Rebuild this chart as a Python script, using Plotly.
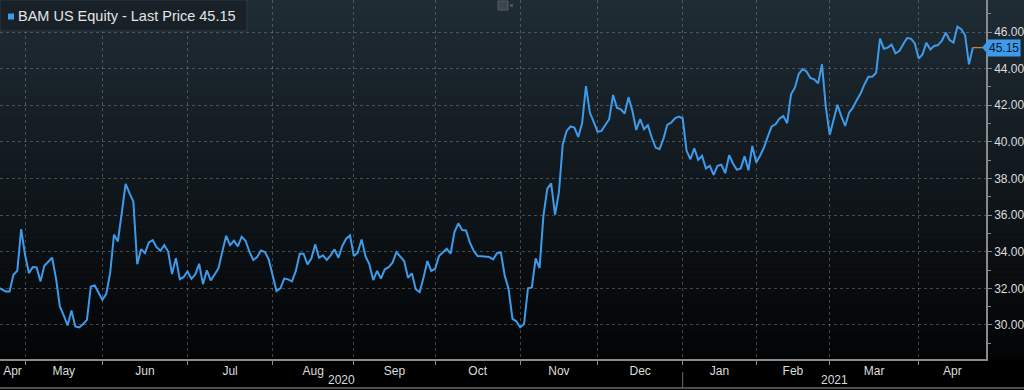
import plotly.graph_objects as go
import pandas as pd

# ---------------- data ----------------
TICKER = "BAM US Equity"
START_DATE = "2020-04-22"
END_DATE = "2021-04-22"
HOLIDAYS = ["2020-05-25", "2020-07-03", "2020-09-07", "2020-11-26", "2020-12-25",
            "2021-01-01", "2021-01-18", "2021-02-15", "2021-04-02"]

PRICES_APR20 = [32.05, 31.92, 31.83, 31.83, 32.74, 32.96, 35.23]
PRICES_MAY20 = [33.83, 32.83, 33.16, 33.14, 32.38, 33.23, 33.45, 33.67, 32.56, 31.01,
                30.52, 29.97, 30.79, 29.92, 29.86, 30.04, 30.28, 32.10, 32.16, 31.77]
PRICES_JUN20 = [31.37, 31.70, 32.83, 34.93, 34.56, 36.11, 37.71, 37.20, 36.75, 33.32,
                34.14, 33.92, 34.51, 34.63, 34.25, 34.05, 34.36, 34.01, 32.78, 33.65,
                32.50, 32.61]
PRICES_JUL20 = [32.92, 32.52, 32.76, 33.34, 32.23, 32.98, 32.43, 32.76, 33.09, 34.01,
                34.87, 34.36, 34.60, 34.29, 34.82, 34.60, 34.00, 33.55, 33.71, 34.07,
                33.98, 33.58]
PRICES_AUG20 = [32.76, 31.85, 32.00, 32.53, 32.49, 32.38, 32.95, 33.89, 33.89, 33.31,
                33.62, 34.40, 33.67, 33.80, 33.55, 33.80, 34.13, 33.67, 34.31, 34.71,
                34.89]
PRICES_SEP20 = [33.76, 33.95, 34.67, 33.76, 33.31, 32.45, 32.95, 32.53, 33.04, 33.16,
                33.40, 33.98, 33.71, 33.49, 32.58, 32.82, 31.95, 31.80, 32.58, 33.49,
                32.95]
PRICES_OCT20 = [33.07, 33.76, 33.95, 34.16, 33.89, 35.07, 35.55, 35.18, 35.16, 34.49,
                34.04, 33.76, 33.75, 33.73, 33.71, 33.58, 33.92, 33.96, 32.69, 31.96,
                30.33, 30.20]
PRICES_NOV20 = [29.87, 30.05, 32.00, 32.05, 33.64, 33.11, 35.96, 37.45, 37.73, 36.02,
                37.24, 39.87, 40.60, 40.84, 40.78, 40.27, 41.02, 43.05, 41.60, 41.09]
PRICES_DEC20 = [40.55, 40.60, 40.96, 41.24, 42.56, 41.87, 41.78, 41.55, 42.44, 41.69,
                40.65, 41.24, 40.69, 40.91, 40.24, 39.69, 39.60, 40.15, 40.93, 41.05,
                41.29, 41.38]
PRICES_JAN21 = [41.29, 39.51, 39.05, 39.65, 39.02, 39.24, 38.55, 38.69, 38.20, 38.69,
                38.75, 38.29, 39.27, 38.82, 38.47, 38.55, 39.22, 38.45, 39.78]
PRICES_FEB21 = [38.87, 39.24, 39.69, 40.29, 40.84, 40.96, 41.27, 41.42, 41.02, 42.60,
                42.96, 43.71, 43.98, 43.85, 43.49, 43.42, 43.20, 44.24, 41.90]
PRICES_MAR21 = [40.38, 41.24, 42.03, 41.40, 40.87, 41.60, 41.87, 42.29, 42.65, 43.15,
                43.56, 43.56, 43.78, 45.64, 45.09, 45.15, 45.31, 44.84, 44.96, 45.33,
                45.67, 45.64, 45.38]
PRICES_APR21 = [44.55, 44.78, 45.42, 45.05, 45.24, 45.29, 45.53, 45.96, 45.56, 45.42,
                46.29, 46.15, 45.82, 44.24, 45.15]

PRICES = (PRICES_APR20 + PRICES_MAY20 + PRICES_JUN20 + PRICES_JUL20 + PRICES_AUG20 +
          PRICES_SEP20 + PRICES_OCT20 + PRICES_NOV20 + PRICES_DEC20 + PRICES_JAN21 +
          PRICES_FEB21 + PRICES_MAR21 + PRICES_APR21)

Y_TICKS = [30, 32, 34, 36, 38, 40, 42, 44, 46]
MONTH_NAMES = ["Jan", "Feb", "Mar", "Apr", "May", "Jun", "Jul", "Aug", "Sep", "Oct", "Nov", "Dec"]

# ---------------- trading-day axis ----------------
dates = [d for d in pd.bdate_range(START_DATE, END_DATE) if d.strftime("%Y-%m-%d") not in HOLIDAYS]
n = min(len(dates), len(PRICES))
dates = dates[:n]
prices = PRICES[:n]
idx = list(range(n))

X_RANGE = [0.53, 255.4]
Y_RANGE = [28.14, 47.75]

month_starts = [k for k in range(n) if k == 0 or dates[k].month != dates[k - 1].month]
grid_vals = [k for k in month_starts if k > X_RANGE[0]]
bounds = month_starts + [X_RANGE[1]]
label_vals, label_text = [], []
for j, k in enumerate(month_starts):
    a = max(k, X_RANGE[0])
    b = min(bounds[j + 1], X_RANGE[1])
    label_vals.append((a + b) / 2)
    label_text.append(MONTH_NAMES[dates[k].month - 1])

year_starts = [k for k in range(n) if k == 0 or dates[k].year != dates[k - 1].year]
ybounds = year_starts + [X_RANGE[1]]
year_pos = [(max(k, X_RANGE[0]) + min(ybounds[j + 1], X_RANGE[1])) / 2 for j, k in enumerate(year_starts)]
year_txt = [str(dates[k].year) for k in year_starts]

# ---------------- geometry helpers ----------------
W, H = 1024, 390
ML, MR, MT, MB = 0, 38, 0, 31
PW, PH = W - ML - MR, H - MT - MB


def px(x):
    return (x - ML) / PW


def py(y):
    return 1 - (y - MT) / PH


LINE_BLUE = "#3d9bec"
TXT = "#dcdcdc"
FONT = "Liberation Sans"

fig = go.Figure()

fig.add_trace(go.Scatter(
    x=idx, y=prices, mode="lines",
    line=dict(color=LINE_BLUE, width=2),
    customdata=[d.strftime("%Y-%m-%d") for d in dates],
    hovertemplate="%{customdata}: %{y:.2f}<extra></extra>",
    showlegend=False,
))
fig.add_trace(go.Scatter(
    x=[idx[-1], X_RANGE[1]], y=[prices[-1], prices[-1]], mode="lines",
    line=dict(color="#c8823a", width=1.3), hoverinfo="skip", showlegend=False,
))

shapes = []
# background gradient (plot + right label area)
top = (31, 44, 53)
bot = (3, 4, 5)
NB = 72
for b in range(NB):
    t = (b + 0.5) / NB
    c = tuple(int(round(top[i] + (bot[i] - top[i]) * t)) for i in range(3))
    y0 = PH * b / NB
    y1 = PH * (b + 1) / NB
    shapes.append(dict(type="rect", xref="paper", yref="paper",
                       x0=px(0), x1=px(W), y0=py(y1 + 0.5), y1=py(y0),
                       fillcolor="rgb(%d,%d,%d)" % c, line=dict(width=0), layer="below"))

# legend box
shapes.append(dict(type="rect", xref="paper", yref="paper", x0=px(0), x1=px(247), y0=py(31), y1=py(0),
                   fillcolor="#182127", line=dict(color="#2e383f", width=1), layer="above"))
shapes.append(dict(type="rect", xref="paper", yref="paper", x0=px(8), x1=px(14), y0=py(19.5), y1=py(13.5),
                   fillcolor=LINE_BLUE, line=dict(width=0), layer="above"))
# small icon at top centre
shapes.append(dict(type="rect", xref="paper", yref="paper", x0=px(498), x1=px(508), y0=py(10), y1=py(1),
                   fillcolor="#3c454b", line=dict(color="#555e64", width=1), layer="above"))
shapes.append(dict(type="rect", xref="paper", yref="paper", x0=px(510), x1=px(513), y0=py(7), y1=py(4),
                   fillcolor="#4a5359", line=dict(width=0), layer="above"))
# last price tag arrow
upp = (Y_RANGE[1] - Y_RANGE[0]) / PH
lp = prices[-1]
shapes.append(dict(type="path", xref="paper", yref="y",
                   path="M %f,%f L %f,%f L %f,%f Z" % (px(982), lp, px(988), lp + 7 * upp, px(988), lp - 7 * upp),
                   fillcolor=LINE_BLUE, line=dict(width=0), layer="above"))
# bottom date band lines
shapes.append(dict(type="line", xref="paper", yref="paper", x0=px(0), x1=px(W), y0=py(388), y1=py(388),
                   line=dict(color="#6a6a6a", width=1.5)))
for k in year_starts:
    if k > X_RANGE[0]:
        shapes.append(dict(type="line", xref="x", yref="paper", x0=k, x1=k, y0=py(388), y1=py(372),
                           line=dict(color="#6a6a6a", width=1)))

annotations = [
    dict(xref="paper", yref="paper", x=px(16), y=py(16), xanchor="left", yanchor="middle",
         text="%s - Last Price %.2f" % (TICKER, lp), showarrow=False,
         font=dict(family=FONT, size=14.5, color="#e4e4e4")),
    dict(xref="paper", yref="y", x=px(987), y=lp, xanchor="left", yanchor="middle",
         text="%.2f" % lp, showarrow=False, bgcolor=LINE_BLUE, borderpad=1,
         font=dict(family=FONT, size=12, color="#0b1621")),
]
for xv, tx in zip(year_pos, year_txt):
    annotations.append(dict(xref="x", yref="paper", x=xv, y=py(380), xanchor="center", yanchor="middle",
                            text=tx, showarrow=False, font=dict(family=FONT, size=12, color=TXT)))

GRID = "rgba(150,150,150,0.42)"

fig.update_layout(
    width=W, height=H, autosize=False,
    margin=dict(l=ML, r=MR, t=MT, b=MB, pad=0),
    paper_bgcolor="#000000", plot_bgcolor="rgba(0,0,0,0)",
    font=dict(family=FONT, size=12, color=TXT),
    showlegend=False,
    shapes=shapes, annotations=annotations,
    hovermode="closest",
    xaxis=dict(
        range=X_RANGE, tickmode="array", tickvals=label_vals, ticktext=label_text,
        ticks="", showgrid=False, zeroline=False,
        showline=True, linecolor="#8a8a8a", linewidth=1.5,
        tickfont=dict(family=FONT, size=12, color=TXT),
        minor=dict(tickmode="array", tickvals=grid_vals, showgrid=True, gridcolor=GRID,
                   griddash="dot", gridwidth=1, ticks="outside", ticklen=4, tickcolor="#8a8a8a"),
    ),
    yaxis=dict(
        range=Y_RANGE, side="right", tickmode="array", tickvals=Y_TICKS,
        ticktext=["%.2f" % v for v in Y_TICKS],
        showgrid=True, gridcolor=GRID, griddash="dot", gridwidth=1, zeroline=False,
        showline=True, linecolor="#8a8a8a", linewidth=1.5,
        ticks="outside", ticklen=4, tickcolor="#8a8a8a",
        tickfont=dict(family=FONT, size=12, color=TXT),
        minor=dict(dtick=1, tick0=29, ticks="outside", ticklen=3, tickcolor="#8a8a8a", showgrid=False),
    ),
)

fig.write_html("out.html", config={"displayModeBar": False},
               post_script="document.body.style.margin='0';document.body.style.overflow='hidden';")
